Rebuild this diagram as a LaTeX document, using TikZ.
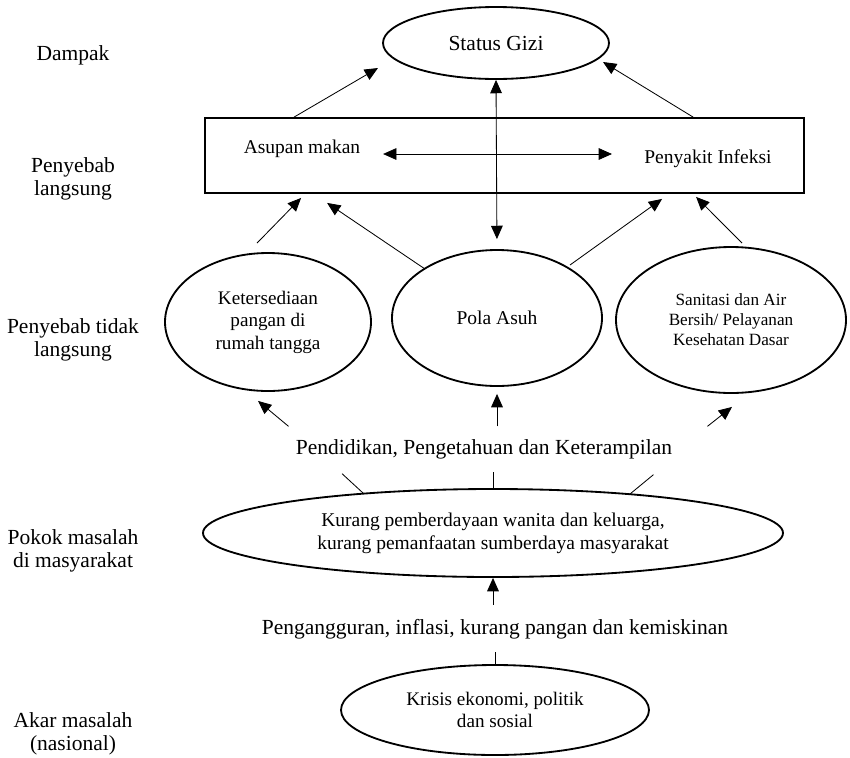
\documentclass[tikz,border=0pt]{standalone}
\usepackage{fontspec}
\setmainfont{Liberation Serif}
\usetikzlibrary{shapes.geometric,arrows.meta,calc}

\newcommand\fsbig{\fontsize{12.9}{13.8}\selectfont}
\newcommand\fsmid{\fontsize{11.7}{13.8}\selectfont}

\tikzset{
  oval/.style={draw, ellipse, line width=1.1pt, inner sep=0pt, align=center, font=\fsmid},
  lbl/.style={align=center, font=\fsbig},
  arr/.style={line width=0.5pt, -{Triangle[length=8pt,width=7pt]}},
  dblarr/.style={line width=0.5pt, {Triangle[length=8pt,width=7pt]}-{Triangle[length=8pt,width=7pt]}},
  stub/.style={line width=0.5pt}
}

\begin{document}
\begin{tikzpicture}[x=0.6pt,y=-0.6pt]
    \useasboundingbox (0,0) rectangle (850,757);
    % level labels
    \node[lbl] (dampak) at (73,55)  {Dampak};
    \node[lbl] (lsg)    at (73,179) {Penyebab\\langsung};
    \node[lbl] (tlsg)   at (73,340) {Penyebab tidak\\langsung};
    \node[lbl] (pokok)  at (73,551) {Pokok masalah\\di masyarakat};
    \node[lbl] (akar)   at (73,734) {Akar masalah\\(nasional)};

    % boxes and ovals
    \node[oval, font=\fsbig, minimum width=135.6pt, minimum height=43.2pt] (gizi) at (496,43) {Status Gizi};
    \node[draw, line width=1.1pt, minimum width=359.4pt, minimum height=45pt] (lsgbox) at (504.5,155.5) {};
    \node[font=\fsmid] (asupan)  at (302,148.5) {Asupan makan};
    \node[font=\fsmid] (infeksi) at (708,158.5) {Penyakit Infeksi};
    \node[oval, font={\fontsize{11.5}{13.5}\selectfont}, minimum width=123.6pt, minimum height=82.8pt] (ket) at (268,322) {Ketersediaan\\pangan di\\rumah tangga};
    \node[oval, minimum width=126pt, minimum height=81.6pt] (pola) at (497,318) {Pola Asuh};
    \node[oval, font={\fontsize{10.3}{12}\selectfont}, minimum width=138pt, minimum height=87.6pt] (san) at (731,320) {Sanitasi dan Air\\Bersih/ Pelayanan\\Kesehatan Dasar};
    \node[font=\fsbig] (pend) at (484,449) {Pendidikan, Pengetahuan dan Keterampilan};
    \node[oval, minimum width=348pt, minimum height=52.8pt] (kurang) at (493,533) {Kurang pemberdayaan wanita dan keluarga,\\kurang pemanfaatan sumberdaya masyarakat};
    \node[font=\fsbig] (peng) at (495,629) {Pengangguran, inflasi, kurang pangan dan kemiskinan};
    \node[oval, font={\fontsize{11.5}{13.2}\selectfont}, minimum width=184.8pt, minimum height=54pt] (krisis) at (495,710) {Krisis ekonomi, politik\\dan sosial};

    % direct causes -> status gizi
    \draw[arr] ($(lsgbox.north west)+(90,0)$)  -- ($(gizi.center)+(-118,25)$);
    \draw[arr] ($(lsgbox.north west)+(489,0)$) -- ($(gizi.center)+(107,19)$);
    \draw[dblarr, shorten >=6pt] (gizi.south) -- (pola.north);
    \draw[dblarr] ($(asupan.east)+(17,5.5)$) -- ($(infeksi.west)+(-26.5,-4.5)$);

    % indirect causes -> direct causes
    \draw[arr] ($(ket.north)+(-11,-9)$)   -- ($(lsgbox.south west)+(97,4)$);
    \draw[arr] ($(pola.center)+(-72,-49)$) -- ($(lsgbox.south west)+(123,9)$);
    \draw[arr] ($(pola.center)+(73,-53)$)  -- ($(lsgbox.south west)+(458,5)$);
    \draw[arr] ($(san.north)+(11,-3)$)     -- ($(lsgbox.south west)+(492,3)$);

    % pendidikan -> indirect causes
    \draw[arr] ($(pend.north west)+(-1.5,-7)$) -- ($(ket.south)+(-10,9)$);
    \draw[arr] ($(pend.north -| pola.south)+(0,-7)$) -- ($(pola.south)+(0,7)$);
    \draw[arr] ($(pend.north east)+(29.5,-7)$) -- ($(san.south)+(1,13)$);

    % masyarakat -> pendidikan
    \draw[stub] ($(kurang.center)+(-130,-40)$) -- ($(pend.south west)+(52,9)$);
    \draw[stub] (kurang.north) -- ++(0,-16);
    \draw[stub] ($(kurang.center)+(137,-39)$) -- ($(pend.south east)+(-24.5,10)$);

    % akar masalah
    \draw[arr, shorten <=5pt] (peng.north -| kurang.south) -- (kurang.south);
    \draw[stub] (krisis.north) -- ++(0,-12);
\end{tikzpicture}
\end{document}
